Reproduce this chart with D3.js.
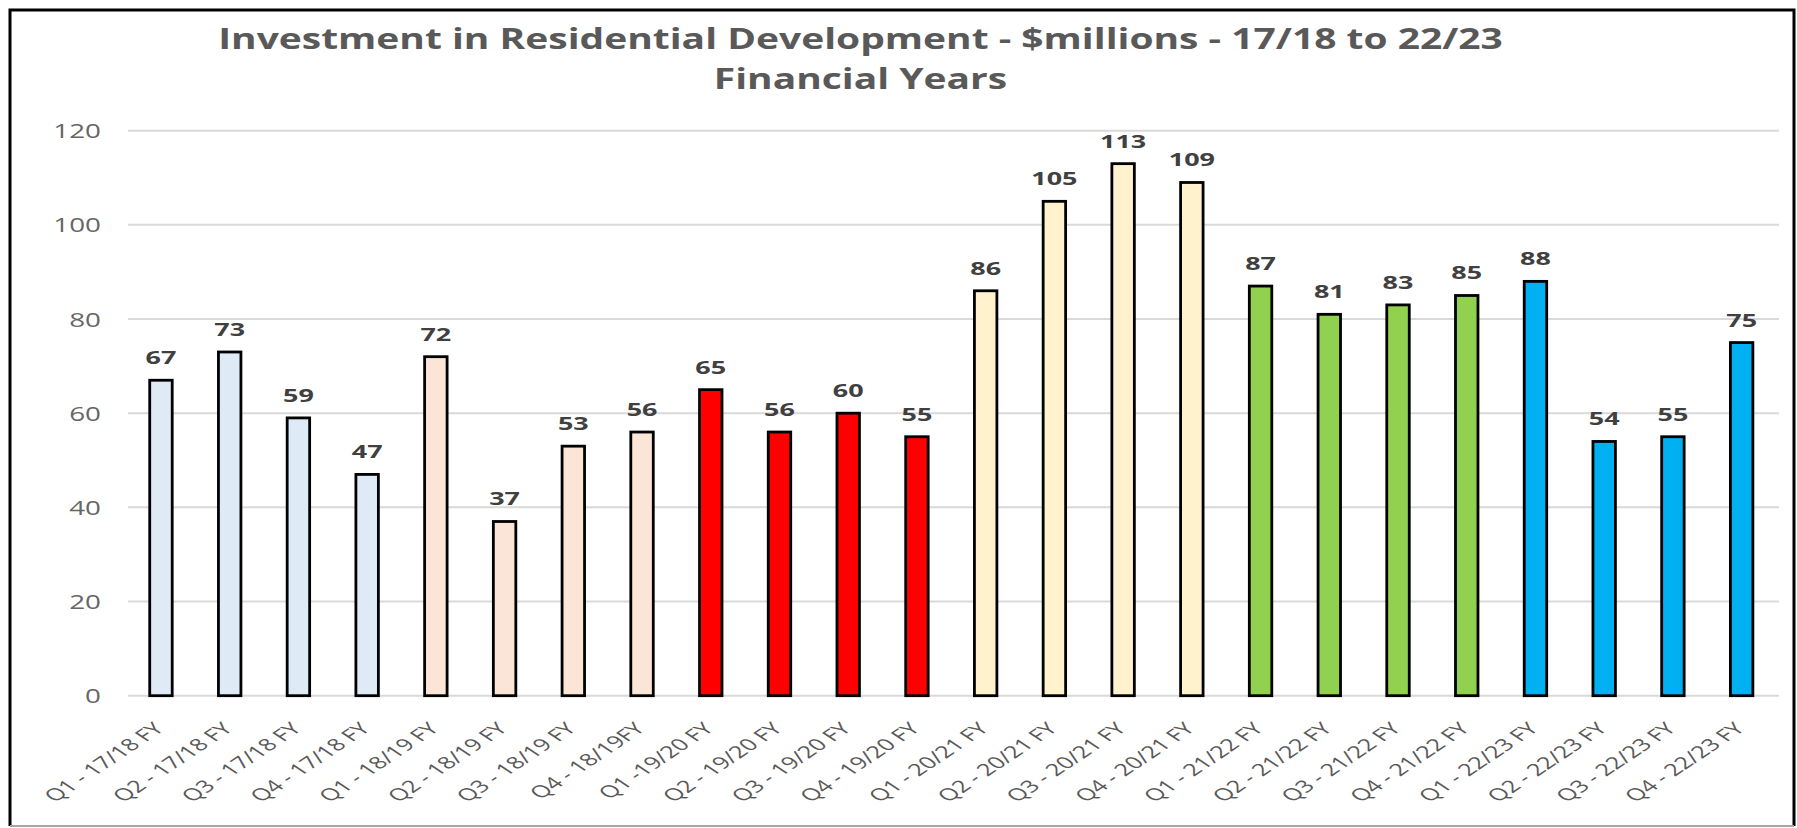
<!DOCTYPE html>
<html><head><meta charset="utf-8">
<script src="https://cdn.jsdelivr.net/npm/d3@7"></script>
<style>html,body{margin:0;padding:0;background:#fff;overflow:hidden}</style>
</head><body>
<svg id="chart" width="1797" height="828"></svg>
<script>
const categories = ["Q1 - 17/18 FY","Q2 - 17/18 FY","Q3 - 17/18 FY","Q4 - 17/18 FY",
  "Q1 - 18/19 FY","Q2 - 18/19 FY","Q3 - 18/19 FY","Q4 - 18/19FY",
  "Q1 -19/20 FY","Q2 - 19/20 FY","Q3 - 19/20 FY","Q4 - 19/20 FY",
  "Q1 - 20/21 FY","Q2 - 20/21 FY","Q3 - 20/21 FY","Q4 - 20/21 FY",
  "Q1 - 21/22 FY","Q2 - 21/22 FY","Q3 - 21/22 FY","Q4 - 21/22 FY",
  "Q1 - 22/23 FY","Q2 - 22/23 FY","Q3 - 22/23 FY","Q4 - 22/23 FY"];
const values = [67,73,59,47,72,37,53,56,65,56,60,55,86,105,113,109,87,81,83,85,88,54,55,75];
const yearGroup = [0,0,0,0,1,1,1,1,2,2,2,2,3,3,3,3,4,4,4,4,5,5,5,5];
const groupColors = ["#DEEBF7","#FBE5D6","#FF0000","#FFF2CC","#92D050","#00B0F0"];
const yTicks = [0,20,40,60,80,100,120];
const titleLines = ["Investment in Residential Development - $millions - 17/18 to 22/23","Financial Years"];

const SX = 1.42; // horizontal stretch of the reference's text
const svg = d3.select("#chart");
svg.append("rect").attr("x",10).attr("y",10).attr("width",1784).attr("height",816)
  .attr("fill","#fff").attr("stroke","none");
svg.append("path").attr("d","M10,826 L10,10 L1794,10 L1794,826")
  .attr("fill","none").attr("stroke","#000").attr("stroke-width",3);
svg.append("line").attr("x1",10).attr("x2",1794).attr("y1",826).attr("y2",826)
  .attr("stroke","#A6A6A6").attr("stroke-width",2);

const x = d3.scaleBand().domain(categories).range([126.6,1776]).paddingInner(0.673).paddingOuter(0.3365);
const y = d3.scaleLinear().domain([0,120]).range([695.7,130.7]);
const cx = c => x(c) + x.bandwidth()/2;

// gridlines
svg.append("g").selectAll("line").data(yTicks).join("line")
  .attr("x1",128).attr("x2",1779).attr("y1",d=>y(d)).attr("y2",d=>y(d))
  .attr("stroke","#D9D9D9").attr("stroke-width",2);

// y axis labels (stretched)
const yAxis = d3.axisLeft(y).tickValues(yTicks).tickSize(0).tickPadding(0);
const gy = svg.append("g").attr("transform","translate(101,0)").call(yAxis);
gy.select(".domain").remove();
gy.selectAll(".tick text").attr("x",0).attr("dy","0.36em")
  .attr("font-family","Open Sans").attr("font-size",19.6).attr("fill","#666666")
  .attr("text-anchor","end").attr("transform",`scale(${SX},1)`);

// bars
svg.append("g").selectAll("rect").data(values).join("rect")
  .attr("x",(d,i)=>x(categories[i]))
  .attr("width",x.bandwidth())
  .attr("y",d=>y(d))
  .attr("height",d=>y(0)-y(d))
  .attr("fill",(d,i)=>groupColors[yearGroup[i]])
  .attr("stroke","#000").attr("stroke-width",2.8);

// data labels
svg.append("g").selectAll("text").data(values).join("text")
  .attr("transform",(d,i)=>`translate(${cx(categories[i])},${y(d)-16}) scale(1.45,1)`)
  .attr("text-anchor","middle")
  .attr("font-family","Open Sans").attr("font-weight","bold").attr("font-size",18.6)
  .attr("fill","#404040").text(d=>d);

// x labels
const xAxis = d3.axisBottom(x).tickSize(0).tickPadding(0);
const gx = svg.append("g").attr("transform",`translate(0,${y(0)})`).call(xAxis);
gx.select(".domain").remove();
gx.selectAll(".tick text")
  .attr("font-family","Open Sans").attr("font-size",16.8).attr("fill","#595959")
  .attr("text-anchor","end").attr("dy",null).attr("y",0)
  .attr("transform",`translate(4,34) scale(1.5,1) rotate(-45)`);

// title
const t = svg.append("g");
const tl = titleLines.map((s,i)=>t.append("text")
   .attr("text-anchor","middle")
   .attr("font-family","Open Sans").attr("font-weight","bold").attr("font-size",28.5)
   .attr("fill","#595959").text(s));
const w = tl[0].node().getComputedTextLength();
const ts = 1285/w;
tl.forEach((el,i)=>el.attr("transform",`translate(860.5,${i===0?49.3:89}) scale(${ts},1)`));
</script>
</body></html>
